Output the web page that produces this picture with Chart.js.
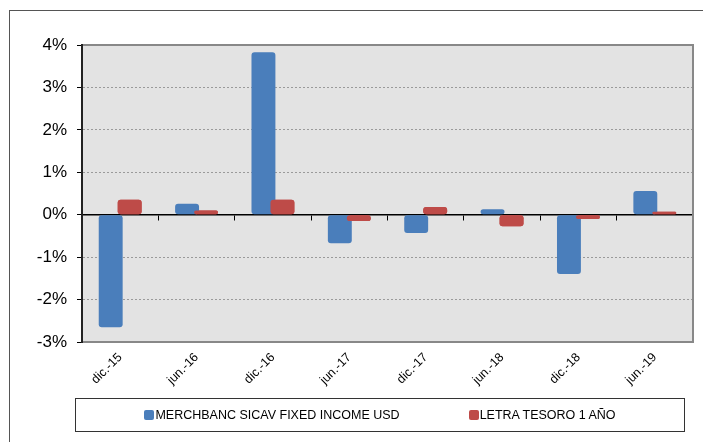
<!DOCTYPE html>
<html>
<head>
<meta charset="utf-8">
<script src="https://cdn.jsdelivr.net/npm/chart.js@4/dist/chart.umd.min.js"></script>
<style>
  html, body { margin: 0; padding: 0; background: #fff; overflow: hidden; }
  #marco { position: absolute; left: 9px; top: 10px; width: 800px; height: 500px; border: 1px solid #555; }
  #wrap { position: absolute; left: 0; top: 0; width: 703px; height: 442px; }
  #leyenda {
    position: absolute; left: 75px; top: 398px; width: 610px; height: 34px;
    border: 1px solid #333; box-sizing: border-box;
    display: flex; justify-content: center; align-items: center; gap: 69px;
    font: 12.5px "Liberation Sans", Arial, sans-serif; color: #000;
  }
  .item { display: flex; align-items: center; }
  .caja { width: 10px; height: 10px; border-radius: 2px; margin-right: 1px; }
</style>
</head>
<body>
<div id="marco"></div>
<div id="wrap"><canvas id="grafico" width="703" height="442"></canvas></div>
<div id="leyenda"></div>

<script>
// datos (rentabilidad semestral, %)
const categorias = ["dic.-15", "jun.-16", "dic.-16", "jun.-17", "dic.-17", "jun.-18", "dic.-18", "jun.-19"];
const fondo = [-2.65, 0.26, 3.83, -0.67, -0.43, 0.13, -1.40, 0.56];
const letra = [0.35, 0.10, 0.35, -0.15, 0.18, -0.27, -0.10, 0.07];
const ticksY = [-3, -2, -1, 0, 1, 2, 3, 4];

const nombres = ["MERCHBANC SICAV FIXED INCOME USD", "LETRA TESORO 1 AÑO"];
const colores = ["#4a7ebb", "#be4b48"];

// fondo gris del área de trazado y marco
const marcoPlot = {
  id: "marcoPlot",
  beforeDraw(chart) {
    const { ctx, chartArea: a } = chart;
    ctx.save();
    ctx.fillStyle = "#e3e3e3";
    ctx.fillRect(a.left, a.top, a.right - a.left, a.bottom - a.top);
    ctx.restore();
  },
  afterDatasetsDraw(chart) {
    // la serie roja va por encima de la azul
    chart.getDatasetMeta(1).controller.draw();
  },
  afterDraw(chart) {
    const { ctx, chartArea: a } = chart;
    ctx.save();
    ctx.strokeStyle = "#888";
    ctx.lineWidth = 2;
    ctx.beginPath();
    ctx.moveTo(a.left, a.top);
    ctx.lineTo(a.right, a.top);
    ctx.lineTo(a.right, a.bottom);
    ctx.lineTo(a.left, a.bottom);
    ctx.stroke();
    ctx.strokeStyle = "#222";
    ctx.beginPath();
    ctx.moveTo(a.left, a.top - 1);
    ctx.lineTo(a.left, a.bottom + 1);
    ctx.stroke();
    ctx.restore();
  }
};

const ctx = document.getElementById("grafico").getContext("2d");

new Chart(ctx, {
  type: "bar",
  data: {
    labels: categorias,
    datasets: [
      { label: nombres[0], data: fondo, backgroundColor: colores[0], borderRadius: 3, borderSkipped: false },
      { label: nombres[1], data: letra, backgroundColor: colores[1], borderRadius: 3, borderSkipped: false }
    ]
  },
  options: {
    responsive: false,
    animation: false,
    layout: { padding: { left: 22, top: 45, right: 10, bottom: 48 } },
    datasets: { bar: { categoryPercentage: 0.497, barPercentage: 1.26 } },
    plugins: { legend: { display: false }, tooltip: { enabled: false } },
    scales: {
      x: {
        offset: true,
        grid: { display: false },
        border: { display: false },
        ticks: {
          minRotation: 45, maxRotation: 45, padding: 0, color: "#000",
          font: { family: "'Liberation Sans', Arial", size: 12.5 }
        },
        afterFit: s => { s.height = 52; }
      },
      x2: {
        type: "category",
        labels: categorias,
        position: { y: 0 },
        offset: true,
        ticks: { display: false },
        grid: { offset: true, drawOnChartArea: false, tickLength: 5, color: "#000" },
        border: { color: "#000", width: 1.5 }
      },
      y: {
        min: -3, max: 4,
        afterBuildTicks: s => { s.ticks = ticksY.map(v => ({ value: v })); },
        afterFit: s => { s.width = 60; },
        ticks: {
          color: "#000", padding: 10,
          font: { family: "'Liberation Sans', Arial", size: 17 },
          callback: v => v + "%"
        },
        grid: {
          color: c => (c.tick && (c.tick.value === 0 || c.tick.value === 4 || c.tick.value === -3)) ? "transparent" : "#9a9a9a",
          tickColor: "#000", tickLength: 5, lineWidth: 1
        },
        border: { display: true, color: "#222", width: 2, dash: [2, 2] }
      }
    }
  },
  plugins: [marcoPlot]
});

// leyenda con texto real
const leyenda = document.getElementById("leyenda");
nombres.forEach((n, i) => {
  const item = document.createElement("div");
  item.className = "item";
  item.innerHTML = '<span class="caja" style="background:' + colores[i] + '"></span><span>' + n + '</span>';
  leyenda.appendChild(item);
});
</script>
</body>
</html>
